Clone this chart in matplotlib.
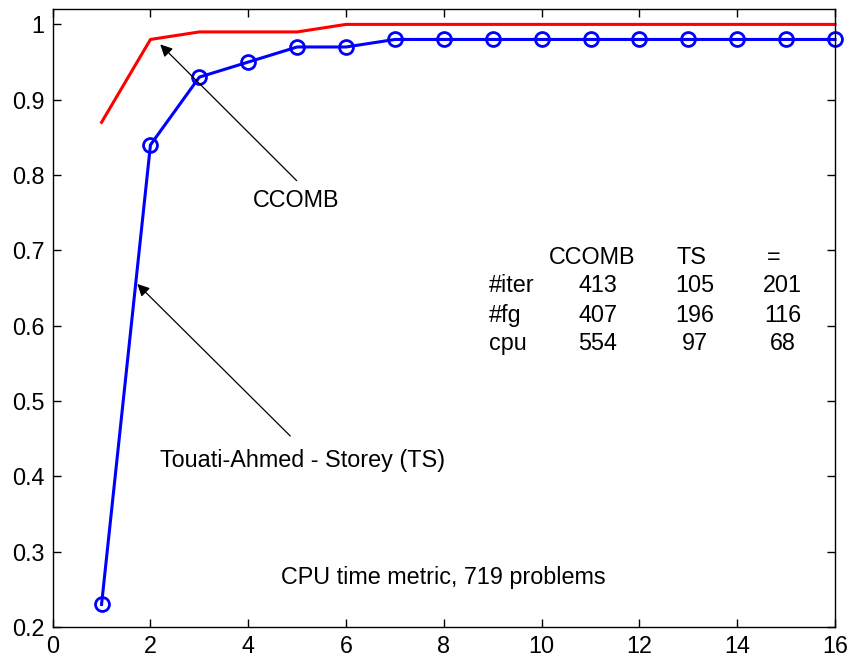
import numpy as np
import matplotlib
matplotlib.use("Agg")
import matplotlib.pyplot as plt

plt.rcParams['font.family'] = ['Liberation Sans', 'DejaVu Sans']

# performance profile values
tau = [1, 2, 3, 4, 5, 6, 7, 8, 9, 10, 11, 12, 13, 14, 15, 16]
ccomb = [0.87, 0.98, 0.99, 0.99, 0.99, 1.0, 1.0, 1.0, 1.0, 1.0, 1.0, 1.0, 1.0, 1.0, 1.0, 1.0]
ts = [0.23, 0.84, 0.93, 0.95, 0.97, 0.97, 0.98, 0.98, 0.98, 0.98, 0.98, 0.98, 0.98, 0.98, 0.98, 0.98]

# summary table
col_heads = ['CCOMB', 'TS', '=']
row_heads = ['#iter', '#fg', 'cpu']
counts = [[413, 105, 201],
          [407, 196, 116],
          [554, 97, 68]]

fs = 16.8

fig = plt.figure(figsize=(8.55, 6.61), dpi=100)
ax = fig.add_axes([0.0616, 0.0514, 0.915, 0.9345])

ax.plot(tau, ccomb, color='red', lw=2.2, clip_on=False)
ax.plot(tau, ts, color='blue', lw=2.2, marker='o', ms=10, mfc='none',
        mec='blue', mew=2, clip_on=False)

ax.set_xlim(0, 16)
ax.set_ylim(0.2, 1.02)
ax.set_xticks(np.arange(0, 17, 2))
ax.set_yticks(np.arange(0.2, 1.01, 0.1))
ax.set_yticklabels(['0.2', '0.3', '0.4', '0.5', '0.6', '0.7', '0.8', '0.9', '1'])
ax.tick_params(direction='in', top=True, right=True, length=6, width=1,
               labelsize=fs, pad=6)
for s in ax.spines.values():
    s.set_linewidth(1)

arrow = dict(arrowstyle='-|>', color='black', lw=0.9, mutation_scale=18)
ax.annotate('', xy=(2.16, 0.976), xytext=(5.03, 0.79), arrowprops=arrow)
ax.text(4.97, 0.766, 'CCOMB', ha='center', va='center', fontsize=fs)
ax.annotate('', xy=(1.69, 0.658), xytext=(4.90, 0.451), arrowprops=arrow)
ax.text(5.11, 0.421, 'Touati-Ahmed - Storey (TS)', ha='center', va='center', fontsize=fs)

head_x = [11.04, 13.07, 14.74]
num_x = [11.15, 13.14, 14.93]
row_y = [0.654, 0.614, 0.577]
for hx, h in zip(head_x, col_heads):
    ax.text(hx, 0.691, h, ha='center', va='center', fontsize=fs)
for ry, rh, vals in zip(row_y, row_heads, counts):
    ax.text(8.92, ry, rh, ha='left', va='center', fontsize=fs)
    for nx, v in zip(num_x, vals):
        ax.text(nx, ry, str(v), ha='center', va='center', fontsize=fs)

ax.text(7.99, 0.266, 'CPU time metric, 719 problems', ha='center', va='center', fontsize=fs)

fig.savefig('out.png', dpi=100)
